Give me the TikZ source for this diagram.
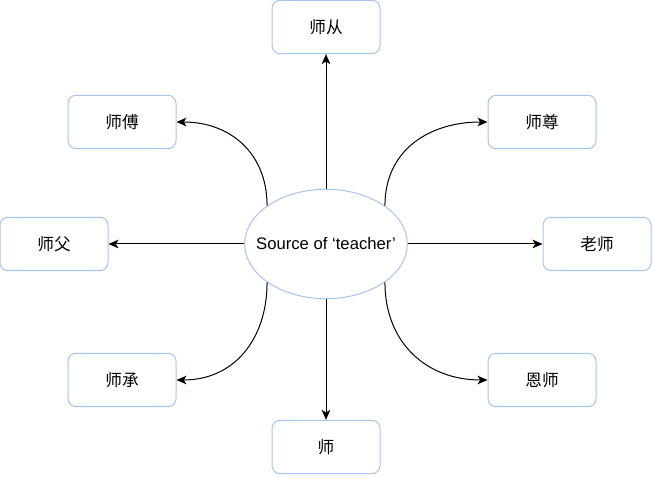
\documentclass[tikz,border=0pt]{standalone}
\usepackage{fontspec}
\setmainfont{Liberation Sans}
\newfontfamily\cjk{Noto Sans CJK SC}
\usetikzlibrary{shapes.geometric,arrows.meta}
\definecolor{edgeblue}{RGB}{169,196,235}

\begin{document}
\begin{tikzpicture}[
    x=0.75pt, y=0.75pt,
    box/.style={rectangle, rounded corners=6pt, draw=edgeblue, fill=white, line width=0.75pt, minimum width=81pt, minimum height=40pt, font=\fontsize{12.5}{15}\selectfont\cjk, text centered},
    source/.style={ellipse, draw=edgeblue, fill=white, line width=0.75pt, minimum width=122pt, minimum height=82pt, inner xsep=-12pt, inner ysep=0pt, font=\fontsize{12.5}{15}\selectfont},
    arrow/.style={-{Stealth[length=7.5pt,width=6.5pt,inset=2pt]}, line width=0.75pt}
]
\useasboundingbox (0,0) rectangle (653,477);

% Centre
\node[source] (src) at (326,233) {Source of `teacher'};

% Boxes
\node[box] (shicong) at (326,450) {师从};
\node[box] (shifu) at (122,355) {师傅};
\node[box] (shizun) at (542,355) {师尊};
\node[box] (shifuq) at (54,233) {师父};
\node[box] (laoshi) at (597,233) {老师};
\node[box] (shicheng) at (122,97) {师承};
\node[box] (enshi) at (542,97) {恩师};
\node[box] (shi) at (326,30) {师};

% Straight arrows
\foreach \dest in {shicong, shifuq, laoshi, shi} {
    \draw[arrow] (src) -- (\dest);
}

% Curved arrows
\draw[arrow] (src.147) to[out=90, in=0, looseness=1.1] (shifu.east);
\draw[arrow] (src.33) to[out=90, in=180, looseness=1.1] (shizun.west);
\draw[arrow] (src.213) to[out=-90, in=0, looseness=1.1] (shicheng.east);
\draw[arrow] (src.-33) to[out=-90, in=180, looseness=1.1] (enshi.west);

\end{tikzpicture}
\end{document}
